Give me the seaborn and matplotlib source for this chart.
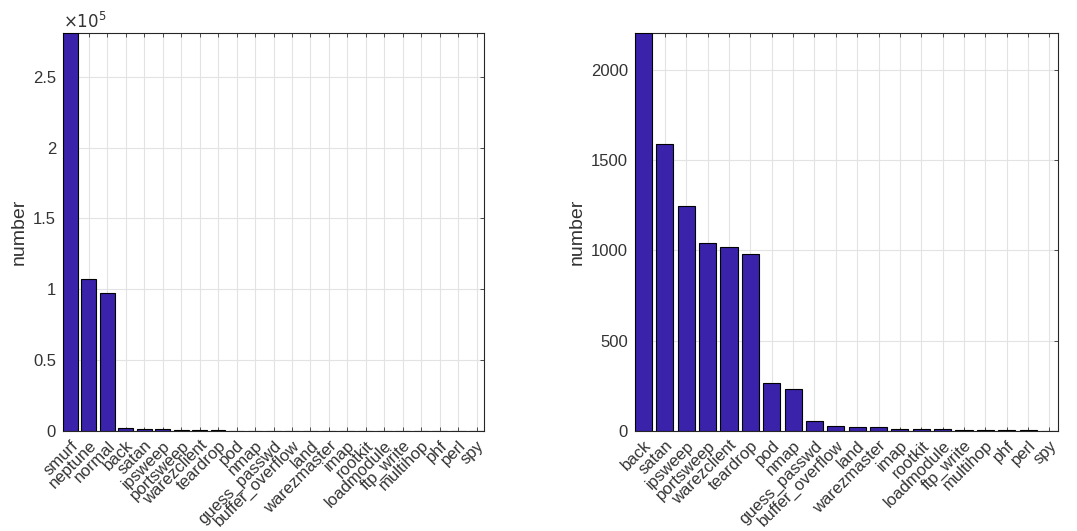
import matplotlib
matplotlib.use("Agg")
import matplotlib.pyplot as plt
import seaborn as sns
import pandas as pd

# KDD Cup 99 (10%) record counts per label
all_labels = ["smurf", "neptune", "normal", "back", "satan", "ipsweep", "portsweep",
              "warezclient", "teardrop", "pod", "nmap", "guess_passwd", "buffer_overflow",
              "land", "warezmaster", "imap", "rootkit", "loadmodule", "ftp_write",
              "multihop", "phf", "perl", "spy"]
all_counts = [280790, 107201, 97278, 2203, 1589, 1247, 1040, 1020, 979, 264, 231,
              53, 30, 21, 20, 12, 10, 9, 8, 7, 4, 3, 2]

# Attack labels only (smurf, neptune and normal removed)
attack_labels = all_labels[3:]
attack_counts = all_counts[3:]

left_yticks = [0, 50000, 100000, 150000, 200000, 250000]
left_yticklabels = ["0", "0.5", "1", "1.5", "2", "2.5"]
right_yticks = [0, 500, 1000, 1500, 2000]
right_yticklabels = ["0", "500", "1000", "1500", "2000"]

sns.set_theme(style="white")
plt.rcParams["font.family"] = ["Liberation Sans", "DejaVu Sans"]

BAR = "#3a22aa"
GRID = "#e3e3e3"
TXT = "#333333"

fig = plt.figure(figsize=(10.77, 5.31), dpi=100)
ax1 = fig.add_axes([0.0585, 0.1883, 0.3909, 0.7495])
ax2 = fig.add_axes([0.5896, 0.1883, 0.3928, 0.7495])


def draw(ax, labels, counts, yticks, yticklabels):
    df = pd.DataFrame({"label": labels, "count": counts})
    sns.barplot(data=df, x="label", y="count", color=BAR, saturation=1,
                edgecolor="black", linewidth=0.8, width=0.8, ax=ax, zorder=3)
    n = len(labels)
    ax.set_xlim(-0.4, n - 0.6)
    ax.set_ylim(0, max(counts))
    ax.set_yticks(yticks)
    ax.set_yticklabels(yticklabels)
    ax.set_xticks(range(n))
    ax.set_xticklabels(labels, rotation=45, ha="right", rotation_mode="anchor")
    ax.grid(True, color=GRID, linewidth=0.8, zorder=0)
    ax.set_axisbelow(True)
    ax.tick_params(axis="both", which="major", direction="in", length=3,
                   width=0.6, colors=TXT, labelsize=12,
                   top=True, right=True, bottom=True, left=True, pad=5)
    ax.tick_params(axis="x", pad=5)
    for s in ax.spines.values():
        s.set_color("#262626")
        s.set_linewidth(0.8)
    ax.set_xlabel("")
    ax.set_ylabel("number", fontsize=14, color=TXT, labelpad=4)


draw(ax1, all_labels, all_counts, left_yticks, left_yticklabels)
draw(ax2, attack_labels, attack_counts, right_yticks, right_yticklabels)

ax1.text(0.0, 1.005, r"$\times10^{5}$", transform=ax1.transAxes, ha="left",
         va="bottom", fontsize=12, color=TXT)

fig.savefig("out.png", dpi=100, facecolor="white")
